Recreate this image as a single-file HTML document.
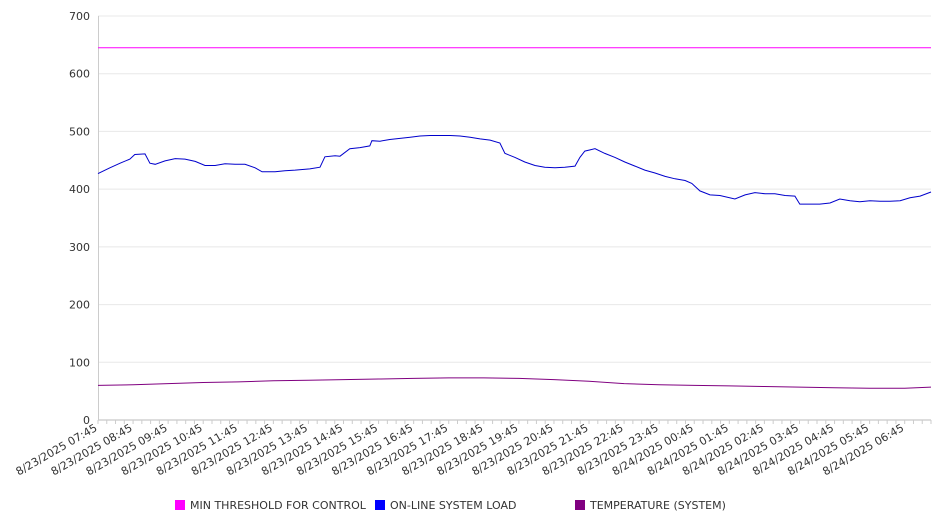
<!DOCTYPE html>
<html><head><meta charset="utf-8"><style>
html,body{margin:0;padding:0;background:#fff;}
svg{display:block;font-family:"DejaVu Sans","Liberation Sans",sans-serif;}
</style></head><body>
<svg id="chart" width="946" height="526" viewBox="0 0 946 526" xmlns="http://www.w3.org/2000/svg">
<g id="grid"></g>
<g id="yaxis"></g>
<g id="xaxis"></g>
<g id="series"></g>
<g id="legend">
  <rect x="175" y="500" width="10" height="10" fill="#ff00ff"/>
  <text x="190" y="509" font-size="11" fill="#333">MIN THRESHOLD FOR CONTROL</text>
  <rect x="375" y="500" width="10" height="10" fill="#0000ff"/>
  <text x="390" y="509" font-size="11" fill="#333">ON-LINE SYSTEM LOAD</text>
  <rect x="575" y="500" width="10" height="10" fill="#800080"/>
  <text x="590" y="509" font-size="11" fill="#333">TEMPERATURE (SYSTEM)</text>
</g>
</svg>
<script>
// Data (hours since 8/23/2025 07:45)
const xTickLabels = ["8/23/2025 07:45","8/23/2025 08:45","8/23/2025 09:45","8/23/2025 10:45","8/23/2025 11:45","8/23/2025 12:45","8/23/2025 13:45","8/23/2025 14:45","8/23/2025 15:45","8/23/2025 16:45","8/23/2025 17:45","8/23/2025 18:45","8/23/2025 19:45","8/23/2025 20:45","8/23/2025 21:45","8/23/2025 22:45","8/23/2025 23:45","8/24/2025 00:45","8/24/2025 01:45","8/24/2025 02:45","8/24/2025 03:45","8/24/2025 04:45","8/24/2025 05:45","8/24/2025 06:45"];
const yTicks = [0,100,200,300,400,500,600,700];
const thresholdHours = [0, 23.75];
const thresholdValues = [645, 645];
const loadHours = [0,.34,.63,.91,1.05,1.34,1.48,1.63,1.91,2.2,2.48,2.77,3.05,3.34,3.62,3.91,4.19,4.48,4.68,5.05,5.33,5.62,6.04,6.33,6.47,6.76,6.9,7.18,7.47,7.75,7.81,8.04,8.32,8.61,8.9,9.18,9.47,9.75,10.04,10.32,10.61,10.89,11.18,11.46,11.6,11.89,12.17,12.46,12.74,13.03,13.31,13.6,13.74,13.88,14.03,14.17,14.45,14.74,15.02,15.31,15.59,15.88,16.17,16.45,16.74,16.93,17.16,17.45,17.73,18.16,18.45,18.73,19.02,19.3,19.59,19.87,20.01,20.3,20.58,20.87,21.15,21.44,21.72,22.01,22.3,22.58,22.87,23.15,23.44,23.75];
const loadValues = [427,437,445,452,460,461,445,443,449,453,452,448,441,441,444,443,443,437,430,430,432,433,435,438,456,458,457,470,472,475,484,483,486,488,490,492,493,493,493,492,490,487,485,480,462,455,447,441,438,437,438,440,455,466,468,470,462,455,447,440,433,428,422,418,415,410,397,390,389,383,390,394,392,392,389,388,374,374,374,376,383,380,378,380,379,379,380,385,388,395];
const tempHours = [0,1,2,3,4,5,6,7,8,9,10,11,12,13,14,15,16,17,18,19,20,21,22,23,23.75];
const tempValues = [60,61,63,65,66,68,69,70,71,72,73,73,72,70,67,63,61,60,59,58,57,56,55,55,57];

const NS="http://www.w3.org/2000/svg";
const X0=98, X1=931, Y0=420, Y1=16, HMAX=23.75, VMAX=700;
const xs=h=>X0+(h/HMAX)*(X1-X0);
const ys=v=>Y0-(v/VMAX)*(Y0-Y1);
function mk(tag,attrs,parent){const e=document.createElementNS(NS,tag);for(const k in attrs)e.setAttribute(k,attrs[k]);parent.appendChild(e);return e;}
const grid=document.getElementById('grid'), ya=document.getElementById('yaxis'), xa=document.getElementById('xaxis'), ser=document.getElementById('series');

yTicks.forEach(v=>{
  const l=mk('line',{x1:X0,x2:X1,y1:ys(v),y2:ys(v),stroke:v===0?'#bbb':'#e8e8e8','stroke-width':1},grid);
  
  
  const t=mk('text',{x:90,y:ys(v)+4,'text-anchor':'end','font-size':11,fill:'#333'},ya);
  t.textContent=v;
  
  
});
const ax=mk('line',{x1:X0+0.5,x2:X0+0.5,y1:Y1,y2:Y0,stroke:'#ccc'},ya);



// minor ticks every 15 min
for(let i=0;i<=95;i++){
  const x=xs(i*0.25);
  const tk=mk('line',{x1:x,x2:x,y1:Y0,y2:Y0+4,stroke:'#ccc'},xa);
  
  
}
xTickLabels.forEach((lab,i)=>{
  const x=xs(i);
  const t=mk('text',{x:x,y:Y0+10,'text-anchor':'end','font-size':11,fill:'#333',transform:`rotate(-30 ${x} ${Y0+10})`},xa);
  t.textContent=lab;
  
  
});

function drawLine(hours,vals,color,name){
  const d=hours.map((h,i)=>(i?'L':'M')+xs(h).toFixed(1)+','+ys(vals[i]).toFixed(1)).join(' ');
  const p=mk('path',{d:d,fill:'none',stroke:color,'stroke-width':1},ser);
  
  
}
drawLine(thresholdHours,thresholdValues,'#ff00ff','threshold-line');
drawLine(loadHours,loadValues,'#0000cc','system-load-line');
drawLine(tempHours,tempValues,'#800080','temperature-line');
</script>
</body></html>
